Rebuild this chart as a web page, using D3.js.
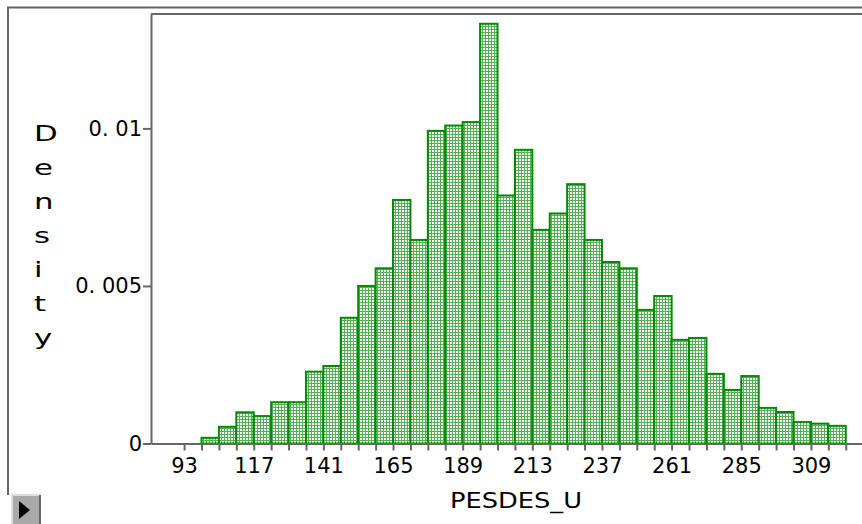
<!DOCTYPE html>
<html>
<head>
<meta charset="utf-8">
<script src="https://cdn.jsdelivr.net/npm/d3@7"></script>
<style>
  html, body { margin: 0; padding: 0; background: #fff; }
  svg { display: block; font-family: "DejaVu Sans", sans-serif; }
</style>
</head>
<body>
<svg id="chart" width="862" height="524"></svg>
<script>
// bin lower edges (width 6) and their densities
const binStarts = [99, 105, 111, 117, 123, 129, 135, 141, 147, 153, 159, 165, 171, 177, 183, 189, 195, 201, 207,
  213, 219, 225, 231, 237, 243, 249, 255, 261, 267, 273, 279, 285, 291, 297, 303, 309, 315];
const density = [0.00018, 0.00053, 0.00099, 0.00087, 0.00131, 0.00131, 0.00228, 0.00246, 0.00399, 0.0050,
  0.00556, 0.00773, 0.00646, 0.00992, 0.01009, 0.0102, 0.01332, 0.00787, 0.00932,
  0.00678, 0.0073, 0.00823, 0.00646, 0.00576, 0.00556, 0.00424, 0.00468, 0.00329, 0.00335,
  0.00221, 0.0017, 0.00214, 0.00113, 0.001, 0.00068, 0.00063, 0.00056];
const binWidth = 6;
const xTicks = [93, 99, 105, 111, 117, 123, 129, 135, 141, 147, 153, 159, 165, 171, 177, 183, 189, 195, 201, 207,
  213, 219, 225, 231, 237, 243, 249, 255, 261, 267, 273, 279, 285, 291, 297, 303, 309, 315, 321];
const xLabels = [93, 117, 141, 165, 189, 213, 237, 261, 285, 309];
const yTicks = [0, 0.005, 0.01];
const yLabels = ["0", "0. 005", "0. 01"];

const svg = d3.select("#chart");
const plotLeft = 151, plotRight = 862, plotTop = 14, plotBottom = 443.5;

const x = d3.scaleLinear().domain([81.6, 326.6]).range([plotLeft, plotRight]);
const y = d3.scaleLinear().domain([0, 0.01363]).range([plotBottom, plotTop]);

// fill pattern for the bars
const pat = svg.append("defs").append("pattern")
  .attr("id", "dots").attr("patternUnits", "userSpaceOnUse")
  .attr("width", 3).attr("height", 3);
pat.append("rect").attr("width", 3).attr("height", 3).attr("fill", "#fff");
pat.append("rect").attr("x", 0).attr("y", 2).attr("width", 3).attr("height", 1).attr("fill", "#55b055");
pat.append("rect").attr("x", 2).attr("y", 0).attr("width", 1).attr("height", 3).attr("fill", "#55b055");

// outer frame and plot frame
svg.append("path").attr("d", `M8,495V7.5H862`).attr("fill", "none")
  .attr("stroke", "#666").attr("stroke-width", 2);
svg.append("line").attr("x1", plotLeft).attr("x2", plotRight).attr("y1", plotTop).attr("y2", plotTop)
  .attr("stroke", "#666").attr("stroke-width", 2);

// bars
svg.append("g").selectAll("rect")
  .data(binStarts.map((s, i) => ({ s, v: density[i] })))
  .join("rect")
  .attr("x", (d) => x(d.s))
  .attr("width", (d) => x(d.s + binWidth) - x(d.s))
  .attr("y", (d) => y(d.v))
  .attr("height", (d) => plotBottom - y(d.v))
  .attr("fill", "url(#dots)")
  .attr("stroke", "#008a00")
  .attr("stroke-width", 2);

// x axis
const xAxis = svg.append("g")
  .attr("transform", `translate(0,${plotBottom})`)
  .call(d3.axisBottom(x).tickValues(xTicks).tickSize(7).tickSizeOuter(0).tickPadding(8)
    .tickFormat((d) => (xLabels.includes(d) ? d : "")));
xAxis.select(".domain").attr("stroke", "#666").attr("stroke-width", 2);
xAxis.selectAll(".tick line").attr("stroke", "#666").attr("stroke-width", 2);
xAxis.selectAll("text").attr("fill", "#000").attr("font-size", 21)
  .attr("font-family", "'DejaVu Sans', sans-serif");

// y axis
const yAxis = svg.append("g")
  .attr("transform", `translate(${plotLeft},0)`)
  .call(d3.axisLeft(y).tickValues(yTicks).tickSize(8).tickSizeOuter(0).tickPadding(1)
    .tickFormat((d, i) => yLabels[i]));
yAxis.select(".domain").attr("stroke", "#666").attr("stroke-width", 2);
yAxis.selectAll(".tick line").attr("stroke", "#666").attr("stroke-width", 2);
yAxis.selectAll("text").attr("fill", "#000").attr("font-size", 21)
  .attr("font-family", "'DejaVu Sans', sans-serif");

// axis titles
svg.append("text").attr("x", 450).attr("y", 508)
  .attr("font-size", 22).attr("textLength", 132).attr("lengthAdjust", "spacingAndGlyphs")
  .text("PESDES_U");

const yTitle = "Density".split("");
svg.append("g").selectAll("text").data(yTitle).join("text")
  .attr("transform", (d, i) => `translate(34,${141 + i * 34}) scale(1.4,1)`)
  .attr("font-size", 22)
  .text((d) => d);

// little play button at the bottom left
svg.append("rect").attr("x", 12).attr("y", 495).attr("width", 28).attr("height", 29).attr("fill", "#a9a9a9");
svg.append("path").attr("d", "M12,524V495H40").attr("fill", "none").attr("stroke", "#ddd").attr("stroke-width", 2);
svg.append("path").attr("d", "M40,495V524").attr("fill", "none").attr("stroke", "#666").attr("stroke-width", 2);
svg.append("path").attr("d", "M19,501L19,519L30,510Z").attr("fill", "#000");
</script>
</body>
</html>
